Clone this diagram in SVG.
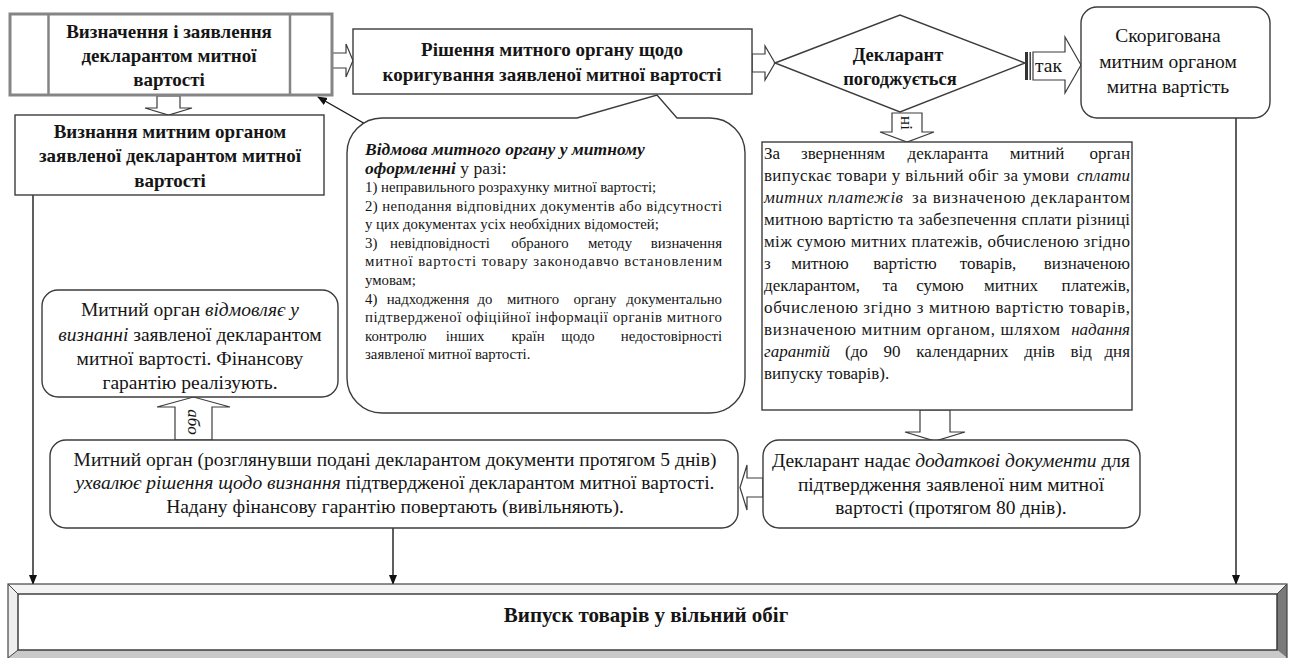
<svg xmlns="http://www.w3.org/2000/svg" width="1290" height="658" viewBox="0 0 1290 658">
<defs>
<marker id="ah" markerWidth="10" markerHeight="10" refX="9" refY="5" orient="auto" markerUnits="userSpaceOnUse">
<path d="M0,1 L10,5 L0,9 Z" fill="#111"/>
</marker>
<style>
text{font-family:"Liberation Serif","Times New Roman",serif;fill:#151515;}
.b{font-weight:bold;}
.i{font-style:italic;}
.bi{font-weight:bold;font-style:italic;}
.box{fill:#fff;stroke:#3c3c3c;stroke-width:1.4;}
.harrow{fill:#fff;stroke:#3c3c3c;stroke-width:1.2;}
.line{fill:none;stroke:#1a1a1a;stroke-width:1.4;}
.t18{font-size:19px;}
.t19{font-size:19.5px;}
.t17{font-size:17px;}
.t14{font-size:14.8px;}
.c{text-anchor:middle;}
.e{text-anchor:end;}
</style>
</defs>
<rect width="1290" height="658" fill="#fff"/>

<g id="connectors">
<path class="harrow" d="M332,53 H346 V44 L353,60.5 L346,77 V68 H332 Z"/>
<path class="harrow" d="M752,54 H765 V46 L775,63 L765,80 V72 H752 Z"/>
<path class="harrow" d="M157,96 V108 H145 L168.5,115 L192,108 H180 V96 Z"/>
<rect x="1025" y="52" width="3" height="28" fill="#333"/>
<rect x="1029.5" y="52" width="1.4" height="28" fill="#333"/>
<path class="harrow" d="M1033,52 H1065 V37 L1081,65 L1065,93 V80 H1033 Z"/>
<text class="t19" x="1035" y="72">так</text>
<path class="harrow" d="M892,113 V132 H880 L907,142 L934,132 H922 V113 Z"/>
<text class="t17 c" transform="translate(901,123) rotate(90)">ні</text>
<path class="harrow" d="M920,410 V432 H905 L935,441 L965,432 H950 V410 Z"/>
<path class="harrow" d="M763,478 H747 V465 L740,487.5 L747,510 V497 H763 Z"/>
<path class="harrow" d="M175,440 V407 H157 L193.5,397 L230,407 H212 V440 Z"/>
<text class="t17 i c" transform="translate(188,422) rotate(90)">або</text>
<line class="line" x1="367" y1="125" x2="318" y2="97" marker-end="url(#ah)"/>
<line class="line" x1="33" y1="195" x2="33" y2="584" marker-end="url(#ah)"/>
<line class="line" x1="393" y1="528" x2="393" y2="584" marker-end="url(#ah)"/>
<line class="line" x1="1236" y1="118" x2="1236" y2="584" marker-end="url(#ah)"/>
</g>

<g id="n-define">
<rect x="10" y="14" width="322" height="81" fill="#fff" stroke="#858585" stroke-width="3"/>
<line x1="48.5" y1="14" x2="48.5" y2="95" stroke="#858585" stroke-width="2.5"/>
<line x1="290" y1="14" x2="290" y2="95" stroke="#858585" stroke-width="2.5"/>
<text class="b t18 c" x="169" y="38">Визначення і заявлення</text>
<text class="b t18 c" x="169" y="62">декларантом митної</text>
<text class="b t18 c" x="169" y="86">вартості</text>
</g>

<g id="n-accept">
<rect class="box" x="15" y="115" width="309" height="80"/>
<text class="b t18 c" x="170" y="138">Визнання митним органом</text>
<text class="b t18 c" x="170" y="162">заявленої декларантом митної</text>
<text class="b t18 c" x="170" y="187">вартості</text>
</g>

<g id="n-decision">
<rect class="box" x="353" y="29" width="399" height="65"/>
<text class="b t18 c" x="552" y="56">Рішення митного органу щодо</text>
<text class="b t18 c" x="552" y="81">коригування заявленої митної вартості</text>
</g>

<g id="n-agree">
<path class="box" d="M775,63 L900,15 L1025,63 L900,112 Z"/>
<text class="b c" font-size="18.5" x="898" y="61">Декларант</text>
<text class="b c" font-size="18.5" x="900" y="85">погоджується</text>
</g>

<g id="n-corrected">
<rect class="box" x="1081" y="7" width="189" height="111" rx="16"/>
<text class="t19 c" x="1168" y="42">Скоригована</text>
<text class="t19 c" x="1168" y="68">митним органом</text>
<text class="t19 c" x="1168" y="93">митна вартість</text>
</g>

<g id="n-refusal">
<path class="box" d="M382,118 H577 L657,95 L677,118 H710 A35,35 0 0 1 745,153 V378 A35,35 0 0 1 710,413 H382 A35,35 0 0 1 347,378 V153 A35,35 0 0 1 382,118 Z"/>
<text class="bi" font-size="17.5" x="365" y="155">Відмова митного органу у митному</text>
<text font-size="17.5" x="365" y="174"><tspan class="bi">оформленні</tspan> у разі:</text>
<text class="t14" x="365" y="192">1) неправильного розрахунку митної вартості;</text>
<text class="t14" x="365" y="210.6" textLength="357" lengthAdjust="spacing">2) неподання відповідних документів або відсутності</text>
<text class="t14" x="365" y="229.2">у цих документах усіх необхідних відомостей;</text>
<g class="t14">
<text x="365" y="247.8">3)</text>
<text class="c" x="440" y="247.8">невідповідності</text>
<text class="c" x="540" y="247.8">обраного</text>
<text class="c" x="610" y="247.8">методу</text>
<text class="e" x="722" y="247.8">визначення</text>
</g>
<text class="t14" x="365" y="266.4" textLength="357" lengthAdjust="spacing">митної вартості товару законодавчо встановленим</text>
<text class="t14" x="365" y="285">умовам;</text>
<g class="t14">
<text x="365" y="303.6">4)</text>
<text class="c" x="428" y="303.6">надходження</text>
<text class="c" x="485" y="303.6">до</text>
<text class="c" x="533" y="303.6">митного</text>
<text class="c" x="595" y="303.6">органу</text>
<text class="e" x="722" y="303.6">документально</text>
</g>
<text class="t14" x="365" y="322.2" textLength="357" lengthAdjust="spacing">підтвердженої офіційної інформації органів митного</text>
<g class="t14">
<text x="365" y="340.8">контролю</text>
<text class="c" x="465" y="340.8">інших</text>
<text class="c" x="528" y="340.8">країн</text>
<text class="c" x="578" y="340.8">щодо</text>
<text class="e" x="722" y="340.8">недостовірності</text>
</g>
<text class="t14" x="365" y="359.4">заявленої митної вартості.</text>
</g>

<g id="n-release-guarantee">
<rect class="box" x="762" y="142" width="370" height="268"/>
<g class="t17">
<text x="764" y="159">За</text>
<text class="c" x="843" y="159">зверненням</text>
<text class="c" x="948" y="159">декларанта</text>
<text class="c" x="1037" y="159">митний</text>
<text class="e" x="1130" y="159">орган</text>
<text x="764" y="181" textLength="305" lengthAdjust="spacing">випускає товари у вільний обіг за умови</text>
<text class="i e" x="1130" y="181">сплати</text>
<text class="i" x="764" y="203" textLength="139" lengthAdjust="spacing">митних платежів</text>
<text x="912" y="203" textLength="218" lengthAdjust="spacing">за визначеною декларантом</text>
<text x="764" y="225" textLength="366" lengthAdjust="spacing">митною вартістю та забезпечення сплати різниці</text>
<text x="764" y="247" textLength="366" lengthAdjust="spacing">між сумою митних платежів, обчисленою згідно</text>
<text x="764" y="269">з</text>
<text class="c" x="820" y="269">митною</text>
<text class="c" x="905" y="269">вартістю</text>
<text class="c" x="988" y="269">товарів,</text>
<text class="e" x="1130" y="269">визначеною</text>
<text x="764" y="291">декларантом,</text>
<text class="c" x="890" y="291">та</text>
<text class="c" x="940" y="291">сумою</text>
<text class="c" x="1011" y="291">митних</text>
<text class="e" x="1130" y="291">платежів,</text>
<text x="764" y="313" textLength="366" lengthAdjust="spacing">обчисленою згідно з митною вартістю товарів,</text>
<text x="764" y="335" textLength="296" lengthAdjust="spacing">визначеною митним органом, шляхом</text>
<text class="i e" x="1130" y="335">надання</text>
<text class="i" x="764" y="357">гарантій</text>
<text x="845" y="357" word-spacing="11.5">(до 90 календарних днів від</text>
<text class="e" x="1130" y="357">дня</text>
<text x="764" y="379">випуску товарів).</text>
</g>
</g>

<g id="n-refuse-recognition">
<rect class="box" x="42" y="290" width="296" height="107" rx="16"/>
<text class="t19 c" x="190" y="316">Митний орган <tspan class="i">відмовляє у</tspan></text>
<text class="t19 c" x="190" y="341"><tspan class="i">визнанні</tspan> заявленої декларантом</text>
<text class="t19 c" x="190" y="365">митної вартості. Фінансову</text>
<text class="t19 c" x="190" y="389">гарантію реалізують.</text>
</g>

<g id="n-approve">
<rect class="box" x="50" y="440" width="688" height="88" rx="16"/>
<text class="t19 c" x="395" y="466">Митний орган (розглянувши подані декларантом документи протягом 5 днів)</text>
<text class="t19 c" x="395" y="489"><tspan class="i">ухвалює рішення щодо визнання</tspan> підтвердженої декларантом митної вартості.</text>
<text class="t19 c" x="395" y="513">Надану фінансову гарантію повертають (вивільняють).</text>
</g>

<g id="n-documents">
<rect class="box" x="763" y="440" width="377" height="88" rx="16"/>
<text class="t19 c" x="951" y="467">Декларант надає <tspan class="i">додаткові документи</tspan> для</text>
<text class="t19 c" x="951" y="491">підтвердження заявленої ним митної</text>
<text class="t19 c" x="951" y="514">вартості (протягом 80 днів).</text>
</g>

<g id="n-release">
<polygon points="8,584 1287,584 1277,594 18,594" fill="#f4f4f4"/>
<polygon points="8,584 18,594 18,650 8,658" fill="#eeeeee"/>
<polygon points="1287,584 1287,658 1277,650 1277,594" fill="#7a7a7a"/>
<polygon points="8,658 18,650 1277,650 1287,658" fill="#c9c9c9"/>
<rect x="8" y="584" width="1279" height="76" fill="none" stroke="#444" stroke-width="1.2"/>
<rect x="18" y="594" width="1259" height="56" fill="#fff" stroke="#333" stroke-width="1.4"/>
<line x1="8" y1="584" x2="18" y2="594" stroke="#444" stroke-width="1"/>
<line x1="1287" y1="584" x2="1277" y2="594" stroke="#444" stroke-width="1"/>
<line x1="8" y1="658" x2="18" y2="650" stroke="#444" stroke-width="1"/>
<text class="b c" font-size="21" x="646" y="622">Випуск товарів у вільний обіг</text>
</g>
</svg>
